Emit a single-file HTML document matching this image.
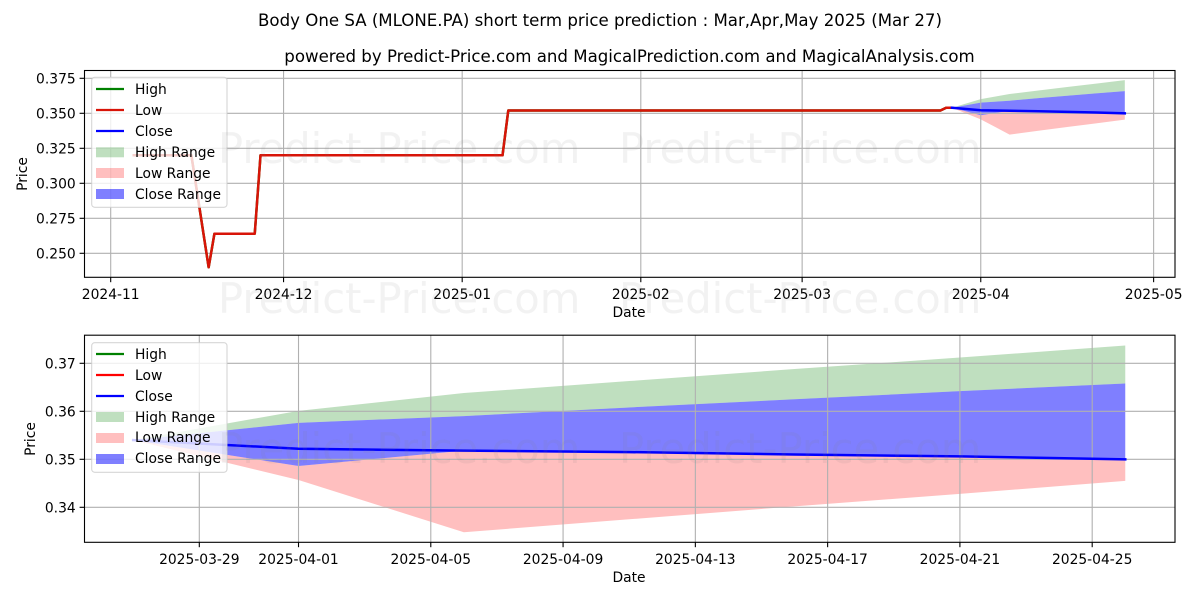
<!DOCTYPE html>
<html lang="en">
<head>
<meta charset="utf-8">
<title>Body One SA short term price prediction</title>
<style>
html,body{margin:0;padding:0;background:#fff;width:1200px;height:600px;overflow:hidden}
svg{display:block}
text{font-family:"DejaVu Sans","Liberation Sans",sans-serif;fill:#000;font-size:13.85px}
.title{font-size:16.62px;text-anchor:middle}
.wm{font-size:41.67px;fill:#808080;fill-opacity:.1}
.legend-box{fill:#fff;fill-opacity:.8;stroke:#ccc;stroke-opacity:.8;stroke-width:1.1}
.legend-line{stroke-width:2.2;fill:none}
</style>
</head>
<body>
<svg id="chart" xmlns="http://www.w3.org/2000/svg" width="1200" height="600" viewBox="0 0 1200 600">
  <text class="title" x="600" y="26">Body One SA (MLONE.PA) short term price prediction : Mar,Apr,May 2025 (Mar 27)</text>
  <text class="title" x="629.5" y="62">powered by Predict-Price.com and MagicalPrediction.com and MagicalAnalysis.com</text>

  <g id="top-panel">
    <g id="top-fills"></g><g id="top-grid"></g><g id="top-lines"></g><g id="top-ticks"></g>
    <rect x="84.5" y="70.5" width="1090.5" height="206.8" fill="none" stroke="#000" stroke-width="1.1"/>
    <text x="629" y="317" text-anchor="middle">Date</text>
    <text transform="translate(27,174) rotate(-90)" text-anchor="middle">Price</text>
    <g>
      <rect class="legend-box" x="91.7" y="77.3" width="135.3" height="130" rx="3"/>
      <line class="legend-line" x1="96" x2="124" y1="89" y2="89" stroke="#008000"/>
      <text x="135" y="94">High</text>
      <line class="legend-line" x1="96" x2="124" y1="110" y2="110" stroke="#d81408"/>
      <text x="135" y="115">Low</text>
      <line class="legend-line" x1="96" x2="124" y1="131" y2="131" stroke="#0000ff"/>
      <text x="135" y="136">Close</text>
      <rect x="96" y="147.3" width="28" height="10" fill="#008000" fill-opacity=".25"/>
      <text x="135" y="157">High Range</text>
      <rect x="96" y="168" width="28" height="10" fill="#ff0000" fill-opacity=".25"/>
      <text x="135" y="178">Low Range</text>
      <rect x="96" y="189" width="28" height="10" fill="#0000ff" fill-opacity=".5"/>
      <text x="135" y="199">Close Range</text>
    </g>
  </g>

  <g id="bottom-panel">
    <g id="bottom-fills"></g><g id="bottom-grid"></g><g id="bottom-lines"></g><g id="bottom-ticks"></g>
    <rect x="84.5" y="335.2" width="1090.5" height="207.1" fill="none" stroke="#000" stroke-width="1.1"/>
    <text x="629" y="582" text-anchor="middle">Date</text>
    <text transform="translate(35,439) rotate(-90)" text-anchor="middle">Price</text>
    <g>
      <rect class="legend-box" x="91.7" y="342.7" width="135.3" height="129.6" rx="3"/>
      <line class="legend-line" x1="96" x2="124" y1="354" y2="354" stroke="#008000"/>
      <text x="135" y="359">High</text>
      <line class="legend-line" x1="96" x2="124" y1="375" y2="375" stroke="#ff0000"/>
      <text x="135" y="380">Low</text>
      <line class="legend-line" x1="96" x2="124" y1="396" y2="396" stroke="#0000ff"/>
      <text x="135" y="401">Close</text>
      <rect x="96" y="412" width="28" height="10" fill="#008000" fill-opacity=".25"/>
      <text x="135" y="422">High Range</text>
      <rect x="96" y="433" width="28" height="10" fill="#ff0000" fill-opacity=".25"/>
      <text x="135" y="442">Low Range</text>
      <rect x="96" y="454" width="28" height="10" fill="#0000ff" fill-opacity=".5"/>
      <text x="135" y="463">Close Range</text>
    </g>
  </g>

  <g>
    <text class="wm" x="218" y="163">Predict-Price.com</text>
    <text class="wm" x="619" y="163">Predict-Price.com</text>
    <text class="wm" x="218" y="313">Predict-Price.com</text>
    <text class="wm" x="619" y="313">Predict-Price.com</text>
    <text class="wm" x="218" y="463">Predict-Price.com</text>
    <text class="wm" x="619" y="463">Predict-Price.com</text>
  </g>
</svg>

<script>
// History series
const historyDates = ["2024-11-05","2024-11-15","2024-11-18","2024-11-19","2024-11-26","2024-11-27","2025-01-08","2025-01-09","2025-03-25","2025-03-26","2025-03-27"];
const highValues = [0.32,0.32,0.24,0.264,0.264,0.32,0.32,0.352,0.352,0.354,0.354];
const lowValues = [0.32,0.32,0.24,0.264,0.264,0.32,0.32,0.352,0.352,0.354,0.354];

// Forecast series
const forecastDates = ["2025-03-27","2025-04-01","2025-04-06","2025-04-11","2025-04-16","2025-04-21","2025-04-26"];
const closeValues = [0.354,0.3522,0.3518,0.3515,0.351,0.3506,0.35];
const highRangeTop = [0.354,0.3601,0.3638,0.3663,0.3688,0.3712,0.3737];
const closeRangeTop = [0.354,0.3576,0.359,0.3608,0.3625,0.3642,0.3658];
const closeRangeBottom = [0.354,0.3486,0.3518,0.3515,0.351,0.3506,0.35];
const lowRangeBottom = [0.354,0.3457,0.3348,0.3375,0.3402,0.3428,0.3455];

// Tick labels
const topXTicks = ["2024-11","2024-12","2025-01","2025-02","2025-03","2025-04","2025-05"];
const topYTicks = ["0.250","0.275","0.300","0.325","0.350","0.375"];
const bottomXTicks = ["2025-03-29","2025-04-01","2025-04-05","2025-04-09","2025-04-13","2025-04-17","2025-04-21","2025-04-25"];
const bottomYTicks = ["0.34","0.35","0.36","0.37"];

const NS = "http://www.w3.org/2000/svg";
const DAY = 86400000;
const toDays = s => {
  const p = s.split("-").map(Number);
  return Date.UTC(p[0], p[1] - 1, p[2] || 1) / DAY;
};
const xTop = s => 110.7 + (toDays(s) - toDays("2024-11-01")) * 5.762;
const yTop = v => 113.3 + (0.35 - v) * 1400;
const xBottom = s => 199.3 + (toDays(s) - toDays("2025-03-29")) * 33.07;
const yBottom = v => 459.3 + (0.35 - v) * 4800;

function make(tag, attrs, parent) {
  const el = document.createElementNS(NS, tag);
  for (const k in attrs) el.setAttribute(k, attrs[k]);
  parent.appendChild(el);
  return el;
}
const linePoints = (dates, values, fx, fy) =>
  dates.map((d, i) => fx(d).toFixed(2) + "," + fy(values[i]).toFixed(2)).join(" ");
const bandPoints = (dates, upper, lower, fx, fy) =>
  linePoints(dates, upper, fx, fy) + " " +
  linePoints(dates.slice().reverse(), lower.slice().reverse(), fx, fy);

function drawPanel(prefix, fx, fy, xTicks, yTicks, box, showHistory) {
  const fills = document.getElementById(prefix + "-fills");
  const grid = document.getElementById(prefix + "-grid");
  const lines = document.getElementById(prefix + "-lines");
  const ticks = document.getElementById(prefix + "-ticks");

  const highBand = make("polygon", {points: bandPoints(forecastDates, highRangeTop, closeRangeTop, fx, fy), fill: "#008000", "fill-opacity": 0.25}, fills);
  
  
  const lowBand = make("polygon", {points: bandPoints(forecastDates, closeRangeBottom, lowRangeBottom, fx, fy), fill: "#ff0000", "fill-opacity": 0.25}, fills);
  
  
  const closeBand = make("polygon", {points: bandPoints(forecastDates, closeRangeTop, closeRangeBottom, fx, fy), fill: "#0000ff", "fill-opacity": 0.5}, fills);
  
  

  xTicks.forEach(label => {
    const x = fx(label);
    const g = make("line", {x1: x, x2: x, y1: box.top, y2: box.bottom, stroke: "#b0b0b0", "stroke-width": 1.1}, grid);
    
    
    const t = make("line", {x1: x, x2: x, y1: box.bottom, y2: box.bottom + 4.9, stroke: "#000", "stroke-width": 1.1}, ticks);
    
    
    const txt = make("text", {x: x, y: box.bottom + 21.5, "text-anchor": "middle"}, ticks);
    txt.textContent = label;
    
    
  });
  yTicks.forEach(label => {
    const y = fy(parseFloat(label));
    const g = make("line", {x1: box.left, x2: box.right, y1: y, y2: y, stroke: "#b0b0b0", "stroke-width": 1.1}, grid);
    
    
    const t = make("line", {x1: box.left - 4.9, x2: box.left, y1: y, y2: y, stroke: "#000", "stroke-width": 1.1}, ticks);
    
    
    const txt = make("text", {x: box.left - 8.8, y: y + 5, "text-anchor": "end"}, ticks);
    txt.textContent = label;
    
    
  });

  const common = {fill: "none", "stroke-width": 2.5, "stroke-linejoin": "round", "stroke-linecap": "square"};
  if (showHistory) {
    const highLine = make("polyline", Object.assign({points: linePoints(historyDates, highValues, fx, fy), stroke: "#008000"}, common), lines);
    
    
    const lowLine = make("polyline", Object.assign({points: linePoints(historyDates, lowValues, fx, fy), stroke: "#d81408"}, common), lines);
    
    
  }
  const closeLine = make("polyline", Object.assign({points: linePoints(forecastDates, closeValues, fx, fy), stroke: "#0000ff"}, common), lines);
  
  
}

drawPanel("top", xTop, yTop, topXTicks, topYTicks, {left: 84.5, right: 1175, top: 70.5, bottom: 277.3}, true);
drawPanel("bottom", xBottom, yBottom, bottomXTicks, bottomYTicks, {left: 84.5, right: 1175, top: 335.2, bottom: 542.3}, false);
</script>
</body>
</html>
